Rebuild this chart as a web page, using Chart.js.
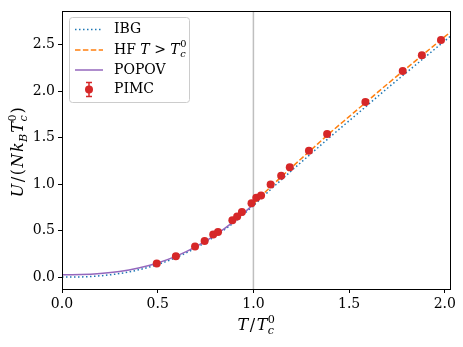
<!DOCTYPE html>
<html>
<head>
<meta charset="utf-8">
<script src="https://cdn.jsdelivr.net/npm/chart.js@4"></script>
<style>
  html, body { margin: 0; padding: 0; background: #fff; }
</style>
</head>
<body>
<canvas id="chart" width="463" height="347"></canvas>
<script>
// PIMC points (T/Tc0, U/(N kB Tc0)) with error bars
const pimcT = [0.495, 0.595, 0.695, 0.745, 0.79, 0.815, 0.89, 0.915, 0.94, 0.99, 1.015, 1.04, 1.09, 1.145, 1.19, 1.29, 1.385, 1.585, 1.78, 1.88, 1.98];
const pimcU = [0.147, 0.225, 0.328, 0.388, 0.457, 0.484, 0.61, 0.652, 0.70, 0.795, 0.852, 0.877, 0.995, 1.09, 1.18, 1.358, 1.537, 1.882, 2.214, 2.385, 2.549];
const pimcErr = [0.01, 0.01, 0.01, 0.01, 0.01, 0.01, 0.01, 0.01, 0.01, 0.012, 0.012, 0.012, 0.012, 0.012, 0.012, 0.012, 0.012, 0.012, 0.012, 0.012, 0.012];

// ideal Bose gas
const ibgT = [0, 0.1, 0.2, 0.3, 0.4, 0.5, 0.6, 0.7, 0.8, 0.9, 1.0, 1.1, 1.2, 1.3, 1.4, 1.5, 1.6, 1.7, 1.8, 1.9, 2.0, 2.03];
const ibgU = [0, 0.002, 0.014, 0.038, 0.078, 0.136, 0.214, 0.315, 0.44, 0.59, 0.77, 0.96, 1.145, 1.325, 1.505, 1.68, 1.855, 2.03, 2.2, 2.37, 2.54, 2.59];

// Hartree-Fock above Tc
const hfT = [1.0, 1.1, 1.2, 1.3, 1.4, 1.5, 1.6, 1.7, 1.8, 1.9, 2.0, 2.03];
const hfU = [0.79, 0.99, 1.18, 1.365, 1.55, 1.725, 1.9, 2.075, 2.245, 2.415, 2.585, 2.635];

// Popov below Tc
const popovT = [0, 0.1, 0.2, 0.3, 0.4, 0.5, 0.6, 0.7, 0.8, 0.9, 1.0];
const popovU = [0.025, 0.027, 0.038, 0.06, 0.098, 0.152, 0.228, 0.328, 0.452, 0.602, 0.78];

const xTicks = [0, 0.5, 1.0, 1.5, 2.0];
const yTicks = [0, 0.5, 1.0, 1.5, 2.0, 2.5];
const tcLine = 1.0;

const FS = 14;
const TS = 16;
const FAM = '"DejaVu Serif", "Liberation Serif", serif';
const pts = (xs, ys) => xs.map((x, i) => ({ x, y: ys[i] }));

function fnt(sz, it) {
  return (it ? 'italic ' : '') + sz + 'px ' + FAM;
}

// parts: {s, i, sub, sup} ; sub/sup drawn stacked after the base glyph
function partWidth(ctx, p, sz) {
  let w = 0;
  if (p.s) { ctx.font = fnt(sz, p.i); w += ctx.measureText(p.s).width; }
  let sw = 0;
  if (p.sub) { ctx.font = fnt(sz * 0.7, true); sw = Math.max(sw, ctx.measureText(p.sub).width); }
  if (p.sup) { ctx.font = fnt(sz * 0.7, false); sw = Math.max(sw, ctx.measureText(p.sup).width); }
  return w + sw;
}
function drawRich(ctx, parts, x, y, sz, align, gap) {
  gap = gap || 0;
  const total = parts.reduce((a, p) => a + partWidth(ctx, p, sz), 0) + gap * (parts.length - 1);
  let cx = align === 'center' ? x - total / 2 : x;
  ctx.fillStyle = '#000';
  ctx.textBaseline = 'middle';
  ctx.textAlign = 'left';
  parts.forEach(p => {
    if (p.s) {
      ctx.font = fnt(sz, p.i);
      ctx.fillText(p.s, cx, y);
      cx += ctx.measureText(p.s).width;
    }
    let sw = 0;
    if (p.sub) {
      ctx.font = fnt(sz * 0.7, true);
      ctx.fillText(p.sub, cx + 0.5, y + sz * 0.32);
      sw = Math.max(sw, ctx.measureText(p.sub).width);
    }
    if (p.sup) {
      ctx.font = fnt(sz * 0.7, false);
      ctx.fillText(p.sup, cx + 0.5, y - sz * 0.38);
      sw = Math.max(sw, ctx.measureText(p.sup).width);
    }
    cx += sw + gap;
  });
}

const extras = {
  id: 'extras',
  beforeDraw(chart) {
    const ctx = chart.ctx;
    ctx.save();
    ctx.fillStyle = '#fff';
    ctx.fillRect(0, 0, chart.width, chart.height);
    ctx.restore();
  },
  beforeDatasetsDraw(chart) {
    const { ctx, chartArea: a, scales: { x, y } } = chart;
    ctx.save();
    // vertical line at Tc
    const vx = x.getPixelForValue(tcLine);
    ctx.strokeStyle = '#bfbfbf';
    ctx.lineWidth = 1.5;
    ctx.beginPath();
    ctx.moveTo(vx, a.top);
    ctx.lineTo(vx, a.bottom);
    ctx.stroke();
    // error bars
    ctx.strokeStyle = '#d62728';
    ctx.lineWidth = 1.5;
    pimcT.forEach((t, i) => {
      const px = x.getPixelForValue(t);
      const y0 = y.getPixelForValue(pimcU[i] - pimcErr[i]);
      const y1 = y.getPixelForValue(pimcU[i] + pimcErr[i]);
      ctx.beginPath();
      ctx.moveTo(px, y0); ctx.lineTo(px, y1);
      ctx.moveTo(px - 3, y0); ctx.lineTo(px + 3, y0);
      ctx.moveTo(px - 3, y1); ctx.lineTo(px + 3, y1);
      ctx.stroke();
    });
    ctx.restore();
  },
  afterDraw(chart) {
    const { ctx, chartArea: a } = chart;
    ctx.save();
    // frame
    ctx.strokeStyle = '#000';
    ctx.lineWidth = 1;
    ctx.strokeRect(Math.round(a.left) + 0.5, Math.round(a.top) + 0.5, Math.round(a.right - a.left), Math.round(a.bottom - a.top));

    // legend
    const lx = 69, ly = 17, lw = 120, lh = 85;
    ctx.fillStyle = 'rgba(255,255,255,0.8)';
    ctx.strokeStyle = '#cccccc';
    ctx.lineWidth = 1;
    ctx.beginPath();
    ctx.roundRect(lx + 0.5, ly + 0.5, lw, lh, 3);
    ctx.fill();
    ctx.stroke();

    const hx0 = 75, hx1 = 103, tx = 114;
    const rows = [29.5, 50, 70, 89.5];
    ctx.lineWidth = 1.5;
    // IBG
    ctx.strokeStyle = '#1f77b4';
    ctx.setLineDash([1.5, 2.5]);
    ctx.beginPath(); ctx.moveTo(hx0, rows[0]); ctx.lineTo(hx1, rows[0]); ctx.stroke();
    // HF
    ctx.strokeStyle = '#ff7f0e';
    ctx.setLineDash([5.5, 2.4]);
    ctx.beginPath(); ctx.moveTo(hx0, rows[1]); ctx.lineTo(hx1, rows[1]); ctx.stroke();
    // POPOV
    ctx.strokeStyle = '#9467bd';
    ctx.setLineDash([]);
    ctx.beginPath(); ctx.moveTo(hx0, rows[2]); ctx.lineTo(hx1, rows[2]); ctx.stroke();
    // PIMC
    const mx = (hx0 + hx1) / 2;
    ctx.strokeStyle = '#d62728';
    ctx.beginPath();
    ctx.moveTo(mx, rows[3] - 7); ctx.lineTo(mx, rows[3] + 7);
    ctx.moveTo(mx - 3, rows[3] - 7); ctx.lineTo(mx + 3, rows[3] - 7);
    ctx.moveTo(mx - 3, rows[3] + 7); ctx.lineTo(mx + 3, rows[3] + 7);
    ctx.stroke();
    ctx.fillStyle = '#d62728';
    ctx.beginPath(); ctx.arc(mx, rows[3], 4, 0, Math.PI * 2); ctx.fill();

    drawRich(ctx, [{ s: 'IBG' }], tx, rows[0], FS);
    drawRich(ctx, [{ s: 'HF ' }, { s: 'T', i: true }, { s: ' > ' }, { s: 'T', i: true, sub: 'c', sup: '0' }], tx, rows[1], FS);
    drawRich(ctx, [{ s: 'POPOV' }], tx, rows[2], FS);
    drawRich(ctx, [{ s: 'PIMC' }], tx, rows[3], FS);

    // axis titles
    drawRich(ctx, [{ s: 'T', i: true }, { s: '/' }, { s: 'T', i: true, sub: 'c', sup: '0' }],
      (a.left + a.right) / 2, 326, TS, 'center', 1.5);
    ctx.translate(19, (a.top + a.bottom) / 2 + 2);
    ctx.rotate(-Math.PI / 2);
    drawRich(ctx, [{ s: 'U', i: true }, { s: '/' }, { s: '(' }, { s: 'N', i: true }, { s: 'k', i: true, sub: 'B' }, { s: 'T', i: true, sub: 'c', sup: '0' }, { s: ')' }],
      0, 0, TS, 'center', 1.5);
    ctx.restore();
  }
};

const axisCommon = {
  type: 'linear',
  grid: { drawOnChartArea: false, drawTicks: true, tickLength: 4, color: '#000', tickWidth: 1 },
  border: { color: '#000', width: 1 },
  ticks: {
    color: '#000',
    font: { family: FAM, size: FS },
    includeBounds: false,
    callback: v => Number(v).toFixed(1)
  }
};

const lineBase = {
  showLine: true,
  pointRadius: 0,
  borderWidth: 1.5,
  cubicInterpolationMode: 'monotone'
};

new Chart(document.getElementById('chart').getContext('2d'), {
  type: 'scatter',
  data: {
    datasets: [
      {
        label: 'PIMC',
        data: pts(pimcT, pimcU),
        order: 0,
        showLine: false,
        pointRadius: 4,
        pointHoverRadius: 4,
        backgroundColor: '#d62728',
        borderColor: '#d62728',
        borderWidth: 0
      },
      { ...lineBase, label: 'POPOV', data: pts(popovT, popovU), order: 1, borderColor: '#9467bd' },
      { ...lineBase, label: 'HF T > Tc0', data: pts(hfT, hfU), order: 2, borderColor: '#ff7f0e', borderDash: [5.5, 2.4] },
      { ...lineBase, label: 'IBG', data: pts(ibgT, ibgU), order: 3, borderColor: '#1f77b4', borderDash: [1.5, 2.5] }
    ]
  },
  options: {
    responsive: false,
    animation: false,
    devicePixelRatio: 1,
    layout: { padding: { top: 10, right: 13, left: 0, bottom: 0 } },
    plugins: { legend: { display: false }, tooltip: { enabled: false } },
    scales: {
      x: {
        ...axisCommon,
        min: 0, max: 2.027,
        ticks: { ...axisCommon.ticks, stepSize: 0.5, maxRotation: 0, padding: 3 },
        afterFit: s => { s.height = 58; }
      },
      y: {
        ...axisCommon,
        min: -0.128, max: 2.856,
        ticks: { ...axisCommon.ticks, stepSize: 0.5, padding: 3 },
        afterFit: s => { s.width = 62; }
      }
    }
  },
  plugins: [extras]
});
</script>
</body>
</html>
